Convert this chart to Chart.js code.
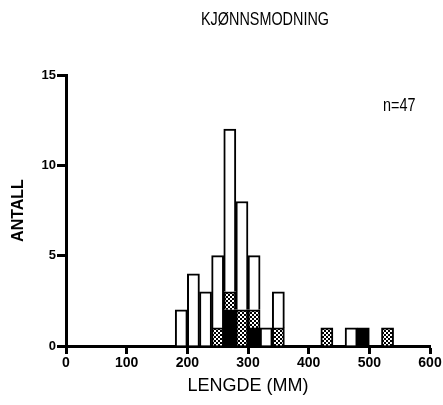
<!DOCTYPE html>
<html>
<head>
<meta charset="utf-8">
<script src="https://cdn.jsdelivr.net/npm/chart.js@4"></script>
<style>
  html, body { margin: 0; padding: 0; background: #fff; }
  #wrap { width: 443px; height: 405px; }
</style>
</head>
<body>
<div id="wrap"><canvas id="chart"></canvas></div>
<script>
// bin centres (mm), 20 mm bins
const binCenters = [190, 210, 230, 250, 270, 290, 310, 330, 350, 430, 470, 490, 530];
// counts per bin, stacked from the bottom: black, hatched, white
const blackCounts   = [0, 0, 0, 0, 2, 0, 1, 0, 0, 0, 0, 1, 0];
const hatchedCounts = [0, 0, 0, 1, 1, 2, 1, 0, 1, 1, 0, 0, 1];
const whiteCounts   = [2, 4, 3, 4, 9, 6, 3, 1, 2, 0, 1, 0, 0];
const yTicks = [0, 5, 10, 15];
const xTicks = [0, 100, 200, 300, 400, 500, 600];

function makeHatch() {
  const c = document.createElement("canvas");
  c.width = 4;
  c.height = 4;
  const g = c.getContext("2d");
  g.fillStyle = "#000";
  g.fillRect(0, 0, 4, 4);
  g.fillStyle = "#fff";
  g.fillRect(0, 0, 2, 2);
  g.fillRect(2, 2, 2, 2);
  return g.createPattern(c, "repeat");
}

function toPoints(vals) {
  return binCenters.map((x, i) => ({ x, y: vals[i] || null }));
}

// narrow text, drawn squeezed horizontally
function narrowText(ctx, text, x, y, sx) {
  ctx.save();
  ctx.translate(x, y);
  ctx.scale(sx, 1);
  ctx.fillText(text, 0, 0);
  ctx.restore();
}

const textPlugin = {
  id: "texts",
  afterDraw(chart) {
    const ctx = chart.ctx;
    ctx.save();
    ctx.fillStyle = "#000";
    ctx.textBaseline = "middle";
    ctx.textAlign = "center";
    ctx.font = '18px "Liberation Sans", Arial, sans-serif';
    narrowText(ctx, "KJØNNSMODNING", 265, 20, 0.8);
    ctx.textAlign = "left";
    narrowText(ctx, "n=47", 383, 106, 0.8);
    ctx.restore();
  },
};

const ds = (label, vals, bg) => ({
  label,
  data: toPoints(vals),
  backgroundColor: bg,
  borderColor: "#000",
  borderWidth: 2,
  barPercentage: 1,
  categoryPercentage: 1,
});

const ctx = document.getElementById("chart").getContext("2d");
new Chart(ctx, {
  type: "bar",
  data: {
    datasets: [
      ds("black", blackCounts, "#000"),
      ds("hatched", hatchedCounts, makeHatch()),
      ds("white", whiteCounts, "#fff"),
    ],
  },
  plugins: [textPlugin],
  options: {
    responsive: true,
    maintainAspectRatio: false,
    animation: false,
    layout: { padding: { top: 75, right: 13, left: 0, bottom: 0 } },
    plugins: { legend: { display: false }, tooltip: { enabled: false } },
    scales: {
      x: {
        type: "linear",
        stacked: true,
        offset: false,
        min: 0,
        max: 600,
        afterFit: (s) => { s.height = 59; },
        afterBuildTicks: (s) => { s.ticks = xTicks.map((v) => ({ value: v })); },
        grid: { offset: false, drawOnChartArea: false, drawTicks: true, tickLength: 8, tickWidth: 3, tickColor: "#000" },
        border: { display: true, color: "#000", width: 3 },
        ticks: {
          color: "#000",
          padding: 1,
          maxRotation: 0,
          font: { family: '"Liberation Sans", Arial, sans-serif', size: 14, weight: "bold" },
        },
        title: {
          display: true,
          text: "LENGDE (MM)",
          color: "#000",
          padding: { top: 0, bottom: 8 },
          font: { family: '"Liberation Sans", Arial, sans-serif', size: 18 },
        },
      },
      y: {
        stacked: true,
        min: 0,
        max: 15,
        afterFit: (s) => { s.width = 66; },
        afterBuildTicks: (s) => { s.ticks = yTicks.map((v) => ({ value: v })); },
        grid: { drawOnChartArea: false, drawTicks: true, tickLength: 9, tickWidth: 3, tickColor: "#000" },
        border: { display: true, color: "#000", width: 3 },
        ticks: {
          color: "#000",
          padding: 1,
          font: { family: '"Liberation Sans", Arial, sans-serif', size: 13, weight: "bold" },
        },
        title: {
          display: true,
          text: "ANTALL",
          color: "#000",
          padding: { top: 9, bottom: 0 },
          font: { family: '"Liberation Sans", Arial, sans-serif', size: 16, weight: "bold" },
        },
      },
    },
  },
});
</script>
</body>
</html>
